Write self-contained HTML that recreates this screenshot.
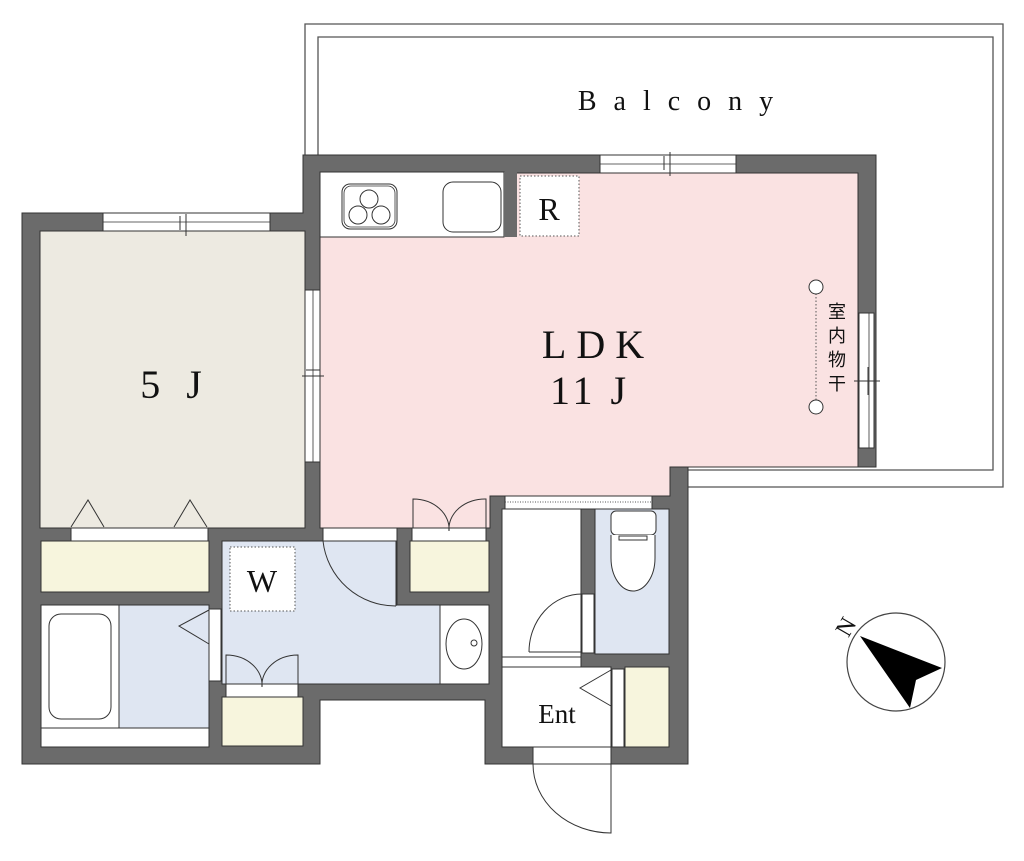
<!DOCTYPE html>
<html><head><meta charset="utf-8"><style>
html,body{margin:0;padding:0;background:#fff;}
svg{display:block;}
text{font-family:"Liberation Serif","Noto Serif CJK SC",serif;fill:#111;}
</style></head><body>
<svg width="1024" height="861" viewBox="0 0 1024 861" xmlns="http://www.w3.org/2000/svg">
<!-- balcony -->
<path d="M305 155 V24 H1003 V487 H688" fill="none" stroke="#555" stroke-width="1.3"/>
<path d="M318 155 V37 H993 V470 H688" fill="none" stroke="#555" stroke-width="1.3"/>
<text x="684" y="110" font-size="28" text-anchor="middle" letter-spacing="17">Balcony</text>

<!-- walls base -->
<path d="M22 213 H303 V155 H876 V467 H688 V764 H485 V700 H320 V764 H22 Z" fill="#6b6b6b" stroke="#333" stroke-width="1"/>

<!-- 5J -->
<rect x="40" y="231" width="265" height="297" fill="#edeae1" stroke="#333" stroke-width="1"/>
<!-- LDK -->
<path d="M320 173 H858 V467 H670 V496 H490 V528 H320 Z" fill="#fae2e2" stroke="#333" stroke-width="1"/>
<!-- kitchen -->
<rect x="320" y="172" width="184" height="65" fill="#fff" stroke="#333"/>
<rect x="504" y="172" width="13" height="65" fill="#6b6b6b"/>
<rect x="342" y="184" width="55" height="45" rx="8" fill="#fff" stroke="#333"/>
<rect x="344" y="186" width="51" height="41" rx="7" fill="none" stroke="#333" stroke-width=".8"/>
<circle cx="369" cy="199" r="9" fill="#fff" stroke="#333"/>
<circle cx="358" cy="215" r="9" fill="#fff" stroke="#333"/>
<circle cx="381" cy="215" r="9" fill="#fff" stroke="#333"/>
<rect x="443" y="182" width="58" height="50" rx="10" fill="#fff" stroke="#333"/>
<rect x="520" y="176" width="59" height="60" fill="#fff" stroke="#555" stroke-dasharray="1.5,2"/>
<text x="549" y="220" font-size="32" text-anchor="middle">R</text>

<!-- windows -->
<rect x="103" y="213" width="167" height="18" fill="#fff" stroke="#333"/>
<line x1="103" y1="222" x2="270" y2="222" stroke="#333" stroke-width=".8"/>
<line x1="186" y1="214" x2="186" y2="236" stroke="#333"/><line x1="180" y1="216" x2="180" y2="230" stroke="#333"/>
<rect x="600" y="155" width="136" height="18" fill="#fff" stroke="#333"/>
<line x1="600" y1="164" x2="736" y2="164" stroke="#333" stroke-width=".8"/>
<line x1="670" y1="152" x2="670" y2="176" stroke="#333"/><line x1="664" y1="156" x2="664" y2="170" stroke="#333"/>
<rect x="305" y="290" width="15" height="172" fill="#fff" stroke="#333"/>
<line x1="313" y1="290" x2="313" y2="462" stroke="#333" stroke-width=".8"/>
<line x1="302" y1="376" x2="324" y2="376" stroke="#333"/><line x1="306" y1="370" x2="320" y2="370" stroke="#333"/>
<rect x="859" y="313" width="15" height="135" fill="#fff" stroke="#333"/>
<line x1="869" y1="313" x2="869" y2="448" stroke="#333" stroke-width=".8"/>
<line x1="854" y1="381" x2="880" y2="381" stroke="#333"/><line x1="868" y1="367" x2="868" y2="395" stroke="#333"/>

<!-- 室内物干 -->
<line x1="816" y1="290" x2="816" y2="405" stroke="#555" stroke-dasharray="1.5,2"/>
<circle cx="816" cy="287" r="7" fill="#fff" stroke="#333"/>
<circle cx="816" cy="407" r="7" fill="#fff" stroke="#333"/>
<text font-size="18" text-anchor="middle" style="font-family:'Noto Sans CJK JP',sans-serif"><tspan x="837" y="318">室</tspan><tspan x="837" y="342">内</tspan><tspan x="837" y="366">物</tspan><tspan x="837" y="390">干</tspan></text>

<text x="175" y="398" font-size="40" text-anchor="middle" letter-spacing="8">5 J</text>
<text x="598" y="358" font-size="40" text-anchor="middle" letter-spacing="10">LDK</text>
<text x="590" y="404" font-size="40" text-anchor="middle" letter-spacing="4">11 J</text>

<!-- 5J closet -->
<rect x="71" y="528" width="137" height="13" fill="#fff" stroke="#333"/>
<path d="M71 527 L88 500 L104 527 M174 527 L190 500 L207 527" fill="none" stroke="#333"/>
<rect x="41" y="541" width="168" height="51" fill="#f7f5dd" stroke="#333"/>
<!-- bath -->
<rect x="41" y="605" width="78" height="123" fill="#fff" stroke="#333"/>
<rect x="49" y="614" width="62" height="105" rx="12" fill="#fff" stroke="#333"/>
<rect x="119" y="605" width="90" height="123" fill="#dfe6f2" stroke="#333"/>
<rect x="41" y="728" width="168" height="19" fill="#fff" stroke="#333"/>
<rect x="209" y="609" width="12" height="72" fill="#fff" stroke="#333"/>
<path d="M209 610 L179 626 L209 644" fill="none" stroke="#333"/>
<!-- washroom -->
<path d="M222 541 H397 V605 H440 V684 H222 Z" fill="#dfe6f2" stroke="#333"/>
<rect x="440" y="605" width="49" height="79" fill="#fff" stroke="#333"/>
<ellipse cx="464" cy="644" rx="18" ry="25" fill="#fff" stroke="#333"/>
<circle cx="474" cy="643" r="3" fill="#fff" stroke="#333"/>
<rect x="323" y="528" width="74" height="13" fill="#fff" stroke="#333"/>
<path d="M323 541 A73 73 0 0 0 396 606" fill="none" stroke="#333"/>
<line x1="396" y1="541" x2="396" y2="606" stroke="#333"/>
<rect x="230" y="547" width="65" height="64" fill="#fff" stroke="#555" stroke-dasharray="1.5,2"/>
<text x="262" y="592" font-size="32" text-anchor="middle">W</text>
<rect x="226" y="684" width="72" height="13" fill="#fff" stroke="#333"/>
<path d="M226 684 V655 A36 30 0 0 1 262 687 A36 30 0 0 1 298 655 V684" fill="none" stroke="#333"/>
<rect x="222" y="697" width="81" height="49" fill="#f7f5dd" stroke="#333"/>
<!-- right closet -->
<rect x="412" y="528" width="74" height="13" fill="#fff" stroke="#333"/>
<path d="M413 528 V499 A36 30 0 0 1 449 531 A36 30 0 0 1 486 499 V528" fill="none" stroke="#333"/>
<rect x="410" y="541" width="79" height="51" fill="#f7f5dd" stroke="#333"/>

<!-- hallway -->
<rect x="505" y="496" width="147" height="13" fill="#fff" stroke="#333"/>
<line x1="505" y1="502" x2="652" y2="502" stroke="#555" stroke-dasharray="1,1.5"/>
<rect x="502" y="509" width="79" height="148" fill="#fff" stroke="#333"/>
<rect x="502" y="657" width="79" height="10" fill="#fff" stroke="#333"/>
<rect x="582" y="594" width="12" height="59" fill="#fff" stroke="#333"/>
<path d="M529 652 A53 58 0 0 1 582 594" fill="none" stroke="#333"/>
<line x1="529" y1="652" x2="582" y2="652" stroke="#333"/>
<!-- toilet -->
<rect x="595" y="509" width="74" height="145" fill="#dfe6f2" stroke="#333"/>
<rect x="611" y="511" width="45" height="24" rx="5" fill="#fff" stroke="#333"/>
<path d="M611 535 V558 A22 33 0 0 0 655 558 V535" fill="#fff" stroke="#333"/>
<rect x="619" y="536" width="28" height="4" fill="#fff" stroke="#333"/>
<!-- entrance -->
<rect x="502" y="667" width="109" height="80" fill="#fff" stroke="#333"/>
<text x="557" y="723" font-size="27" text-anchor="middle">Ent</text>
<rect x="612" y="669" width="12" height="78" fill="#fff" stroke="#333"/>
<path d="M611 670 L580 688 L611 706" fill="none" stroke="#333"/>
<rect x="625" y="667" width="44" height="80" fill="#f7f5dd" stroke="#333"/>
<rect x="533" y="747" width="78" height="17" fill="#fff" stroke="#333"/>
<path d="M533 764 A78 69 0 0 0 611 833 V764" fill="none" stroke="#333"/>

<!-- compass -->
<circle cx="896" cy="662" r="49" fill="#fff" stroke="#444" stroke-width="1.2"/>
<polygon points="860,636 942,668 916,680 910,708" fill="#000"/>
<text x="848" y="628" font-size="24" text-anchor="middle" transform="rotate(-60 848 628)" dominant-baseline="middle">N</text>
</svg>
</body></html>
